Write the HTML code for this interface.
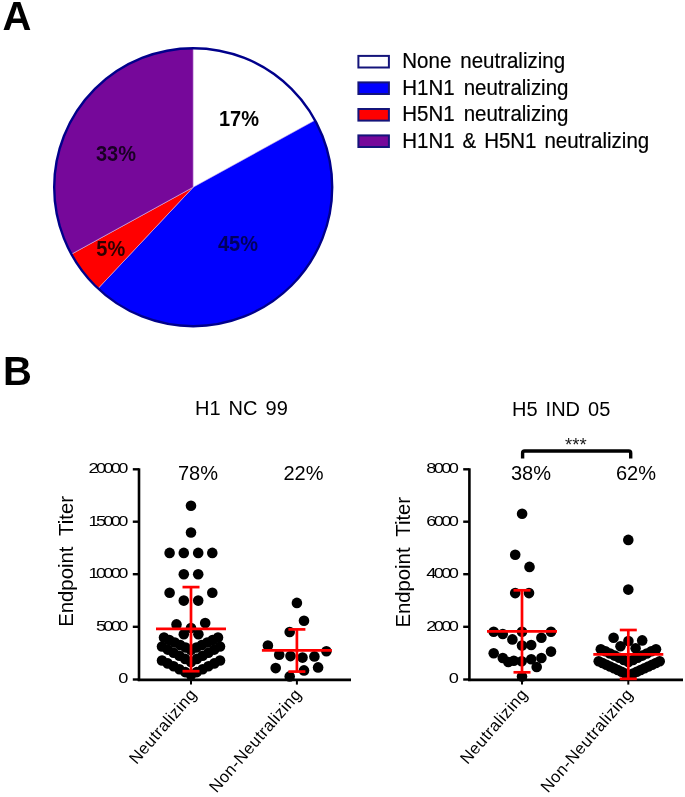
<!DOCTYPE html>
<html><head><meta charset="utf-8"><title>Figure</title>
<style>
html,body{margin:0;padding:0;background:#fff;}
body{width:685px;height:797px;overflow:hidden;}
svg{display:block;will-change:transform;font-family:"Liberation Sans",Arial,sans-serif;}
</style></head><body>
<svg width="685" height="797" viewBox="0 0 685 797">
<rect width="685" height="797" fill="#fff"/>

<text x="2.5" y="29.6" font-size="40" font-weight="bold" fill="#000">A</text>
<text x="3" y="384.8" font-size="40" font-weight="bold" fill="#000">B</text>
<path d="M193.2,187.2 L193.20,48.20 A139.0,139.0 0 0 1 315.01,120.24 Z" fill="#ffffff" stroke="#e0c8ee" stroke-width="0.5"/>
<path d="M193.2,187.2 L315.01,120.24 A139.0,139.0 0 0 1 98.05,288.53 Z" fill="#0000ff" stroke="#e0c8ee" stroke-width="0.5"/>
<path d="M193.2,187.2 L98.05,288.53 A139.0,139.0 0 0 1 71.39,254.16 Z" fill="#ff0000" stroke="#e0c8ee" stroke-width="0.5"/>
<path d="M193.2,187.2 L71.39,254.16 A139.0,139.0 0 0 1 193.20,48.20 Z" fill="#76089a" stroke="#e0c8ee" stroke-width="0.5"/>
<circle cx="193.2" cy="187.2" r="139.0" fill="none" stroke="#00008b" stroke-width="2.4"/>
<defs><filter id="b" x="-10%" y="-20%" width="120%" height="140%"><feGaussianBlur stdDeviation="0.55"/></filter></defs>
<g font-size="20" font-weight="bold">
<text transform="translate(219,125.6) scale(1,1.12)" fill="#000">17%</text>
<text transform="translate(96,161.4) scale(1,1.12)" fill="#1a0024">33%</text>
<text transform="translate(96.3,256.4) scale(1,1.12)" fill="#300000">5%</text>
<text transform="translate(218,251.4) scale(1,1.12)" fill="#04045e" filter="url(#b)">45%</text>
</g>
<rect x="358.4" y="55.9" width="30.5" height="11.6" fill="#ffffff" stroke="#14147a" stroke-width="2"/>
<text transform="translate(402.3,68.2) scale(1,1.07)" font-size="20.5" word-spacing="3.3" fill="#000" stroke="#000" stroke-width="0.2">None neutralizing</text>
<rect x="358.4" y="82.4" width="30.5" height="11.6" fill="#0000ff" stroke="#14147a" stroke-width="2"/>
<text transform="translate(402.3,94.7) scale(1,1.07)" font-size="20.5" word-spacing="3.3" fill="#000" stroke="#000" stroke-width="0.2">H1N1 neutralizing</text>
<rect x="358.4" y="109.0" width="30.5" height="11.6" fill="#ff0000" stroke="#14147a" stroke-width="2"/>
<text transform="translate(402.3,121.3) scale(1,1.07)" font-size="20.5" word-spacing="3.3" fill="#000" stroke="#000" stroke-width="0.2">H5N1 neutralizing</text>
<rect x="358.4" y="135.4" width="30.5" height="11.6" fill="#76089a" stroke="#14147a" stroke-width="2"/>
<text transform="translate(402.3,147.7) scale(1,1.07)" font-size="20.5" word-spacing="2.2" fill="#000" stroke="#000" stroke-width="0.2">H1N1 &amp; H5N1 neutralizing</text>
<text x="195" y="414.7" font-size="20" word-spacing="2.5" fill="#000">H1 NC 99</text>
<text x="178" y="479.7" font-size="20" fill="#000">78%</text>
<text x="283.5" y="479.7" font-size="20" fill="#000">22%</text>
<circle cx="191.0" cy="505.8" r="5.3" fill="#000"/>
<circle cx="191.0" cy="532.5" r="5.3" fill="#000"/>
<circle cx="169.6" cy="552.9" r="5.3" fill="#000"/>
<circle cx="183.8" cy="552.9" r="5.3" fill="#000"/>
<circle cx="198.2" cy="552.9" r="5.3" fill="#000"/>
<circle cx="212.3" cy="552.9" r="5.3" fill="#000"/>
<circle cx="183.8" cy="574.2" r="5.3" fill="#000"/>
<circle cx="198.2" cy="574.2" r="5.3" fill="#000"/>
<circle cx="169.6" cy="592.7" r="5.3" fill="#000"/>
<circle cx="212.3" cy="592.7" r="5.3" fill="#000"/>
<circle cx="183.8" cy="600.6" r="5.3" fill="#000"/>
<circle cx="198.2" cy="600.6" r="5.3" fill="#000"/>
<circle cx="176.5" cy="624.4" r="5.3" fill="#000"/>
<circle cx="205.2" cy="623.1" r="5.3" fill="#000"/>
<circle cx="191.0" cy="628.0" r="5.3" fill="#000"/>
<circle cx="183.8" cy="634.3" r="5.3" fill="#000"/>
<circle cx="198.4" cy="634.3" r="5.3" fill="#000"/>
<circle cx="164.0" cy="637.5" r="5.3" fill="#000"/>
<circle cx="169.4" cy="640.0" r="5.3" fill="#000"/>
<circle cx="174.8" cy="642.5" r="5.3" fill="#000"/>
<circle cx="180.2" cy="645.0" r="5.3" fill="#000"/>
<circle cx="185.6" cy="647.5" r="5.3" fill="#000"/>
<circle cx="191.0" cy="650.0" r="5.3" fill="#000"/>
<circle cx="196.4" cy="647.5" r="5.3" fill="#000"/>
<circle cx="201.8" cy="645.0" r="5.3" fill="#000"/>
<circle cx="207.2" cy="642.5" r="5.3" fill="#000"/>
<circle cx="212.6" cy="640.0" r="5.3" fill="#000"/>
<circle cx="218.0" cy="637.5" r="5.3" fill="#000"/>
<circle cx="162.0" cy="646.5" r="5.3" fill="#000"/>
<circle cx="167.8" cy="649.6" r="5.3" fill="#000"/>
<circle cx="173.6" cy="652.7" r="5.3" fill="#000"/>
<circle cx="179.4" cy="655.8" r="5.3" fill="#000"/>
<circle cx="185.2" cy="658.9" r="5.3" fill="#000"/>
<circle cx="191.0" cy="662.0" r="5.3" fill="#000"/>
<circle cx="196.8" cy="658.9" r="5.3" fill="#000"/>
<circle cx="202.6" cy="655.8" r="5.3" fill="#000"/>
<circle cx="208.4" cy="652.7" r="5.3" fill="#000"/>
<circle cx="214.2" cy="649.6" r="5.3" fill="#000"/>
<circle cx="220.0" cy="646.5" r="5.3" fill="#000"/>
<circle cx="162.0" cy="660.5" r="5.3" fill="#000"/>
<circle cx="167.8" cy="663.4" r="5.3" fill="#000"/>
<circle cx="173.6" cy="666.3" r="5.3" fill="#000"/>
<circle cx="179.4" cy="669.2" r="5.3" fill="#000"/>
<circle cx="185.2" cy="672.1" r="5.3" fill="#000"/>
<circle cx="191.0" cy="675.0" r="5.3" fill="#000"/>
<circle cx="196.8" cy="672.1" r="5.3" fill="#000"/>
<circle cx="202.6" cy="669.2" r="5.3" fill="#000"/>
<circle cx="208.4" cy="666.3" r="5.3" fill="#000"/>
<circle cx="214.2" cy="663.4" r="5.3" fill="#000"/>
<circle cx="220.0" cy="660.5" r="5.3" fill="#000"/>
<circle cx="296.9" cy="602.9" r="5.3" fill="#000"/>
<circle cx="304.0" cy="620.7" r="5.3" fill="#000"/>
<circle cx="289.7" cy="632.0" r="5.3" fill="#000"/>
<circle cx="267.9" cy="645.5" r="5.3" fill="#000"/>
<circle cx="326.4" cy="651.2" r="5.3" fill="#000"/>
<circle cx="279.2" cy="654.8" r="5.3" fill="#000"/>
<circle cx="290.5" cy="656.1" r="5.3" fill="#000"/>
<circle cx="302.5" cy="657.6" r="5.3" fill="#000"/>
<circle cx="314.4" cy="656.4" r="5.3" fill="#000"/>
<circle cx="275.7" cy="668.1" r="5.3" fill="#000"/>
<circle cx="318.1" cy="667.4" r="5.3" fill="#000"/>
<circle cx="304.0" cy="670.4" r="5.3" fill="#000"/>
<circle cx="289.7" cy="676.4" r="5.3" fill="#000"/>
<line x1="139.0" y1="468.3" x2="139.0" y2="681.1" stroke="#000" stroke-width="2.6"/>
<line x1="137.7" y1="679.9" x2="351" y2="679.9" stroke="#000" stroke-width="2.6"/>
<line x1="132.8" y1="469.3" x2="139.0" y2="469.3" stroke="#000" stroke-width="2.4"/>
<text transform="translate(125.7,473.2) scale(1.3,1)" text-anchor="end" font-size="14" letter-spacing="-2.05" fill="#000">20000</text>
<line x1="132.8" y1="521.7" x2="139.0" y2="521.7" stroke="#000" stroke-width="2.4"/>
<text transform="translate(125.7,525.6) scale(1.3,1)" text-anchor="end" font-size="14" letter-spacing="-2.05" fill="#000">15000</text>
<line x1="132.8" y1="574.2" x2="139.0" y2="574.2" stroke="#000" stroke-width="2.4"/>
<text transform="translate(125.7,578.1) scale(1.3,1)" text-anchor="end" font-size="14" letter-spacing="-2.05" fill="#000">10000</text>
<line x1="132.8" y1="626.8" x2="139.0" y2="626.8" stroke="#000" stroke-width="2.4"/>
<text transform="translate(125.7,630.6999999999999) scale(1.3,1)" text-anchor="end" font-size="14" letter-spacing="-2.05" fill="#000">5000</text>
<line x1="132.8" y1="679.5" x2="139.0" y2="679.5" stroke="#000" stroke-width="2.4"/>
<text transform="translate(125.7,683.4) scale(1.3,1)" text-anchor="end" font-size="14" letter-spacing="-2.05" fill="#000">0</text>
<line x1="191" y1="679.9" x2="191" y2="684.6" stroke="#000" stroke-width="2"/>
<line x1="296.9" y1="679.9" x2="296.9" y2="684.6" stroke="#000" stroke-width="2"/>
<g stroke="#ff0000" stroke-width="2.7" fill="none">
<line x1="156" y1="628.8" x2="226" y2="628.8"/>
<line x1="191" y1="587.1" x2="191" y2="671.2"/>
<line x1="182.5" y1="587.1" x2="199.5" y2="587.1"/>
<line x1="182.5" y1="671.2" x2="199.5" y2="671.2"/>
</g>
<g stroke="#ff0000" stroke-width="2.7" fill="none">
<line x1="261.9" y1="650.3" x2="331.9" y2="650.3"/>
<line x1="296.9" y1="629.4" x2="296.9" y2="671.6"/>
<line x1="288.4" y1="629.4" x2="305.4" y2="629.4"/>
<line x1="288.4" y1="671.6" x2="305.4" y2="671.6"/>
</g>
<text transform="translate(72.6,561.4) rotate(-90)" text-anchor="middle" font-size="20.3" word-spacing="5.5" fill="#000">Endpoint Titer</text>
<text transform="translate(197.5,694.8) rotate(-49)" text-anchor="end" font-size="16.5" letter-spacing="0.5" fill="#000">Neutralizing</text>
<text transform="translate(302.4,694.8) rotate(-49)" text-anchor="end" font-size="16.5" letter-spacing="0.5" fill="#000">Non-Neutralizing</text>
<text x="512" y="416.2" font-size="20" word-spacing="2.5" fill="#000">H5 IND 05</text>
<text x="511" y="479.7" font-size="20" fill="#000">38%</text>
<text x="616" y="479.7" font-size="20" fill="#000">62%</text>
<circle cx="522.1" cy="513.7" r="5.3" fill="#000"/>
<circle cx="515.2" cy="554.8" r="5.3" fill="#000"/>
<circle cx="529.5" cy="566.9" r="5.3" fill="#000"/>
<circle cx="515.2" cy="593.1" r="5.3" fill="#000"/>
<circle cx="529.0" cy="593.1" r="5.3" fill="#000"/>
<circle cx="493.7" cy="631.7" r="5.3" fill="#000"/>
<circle cx="502.8" cy="634.0" r="5.3" fill="#000"/>
<circle cx="522.0" cy="631.7" r="5.3" fill="#000"/>
<circle cx="551.0" cy="631.7" r="5.3" fill="#000"/>
<circle cx="512.4" cy="639.4" r="5.3" fill="#000"/>
<circle cx="541.4" cy="637.8" r="5.3" fill="#000"/>
<circle cx="522.0" cy="645.5" r="5.3" fill="#000"/>
<circle cx="531.2" cy="645.0" r="5.3" fill="#000"/>
<circle cx="493.7" cy="653.2" r="5.3" fill="#000"/>
<circle cx="551.0" cy="651.6" r="5.3" fill="#000"/>
<circle cx="502.8" cy="658.0" r="5.3" fill="#000"/>
<circle cx="541.4" cy="658.0" r="5.3" fill="#000"/>
<circle cx="531.2" cy="659.3" r="5.3" fill="#000"/>
<circle cx="508.3" cy="662.0" r="5.3" fill="#000"/>
<circle cx="513.8" cy="660.7" r="5.3" fill="#000"/>
<circle cx="521.7" cy="661.3" r="5.3" fill="#000"/>
<circle cx="536.7" cy="667.0" r="5.3" fill="#000"/>
<circle cx="522.0" cy="676.4" r="5.3" fill="#000"/>
<circle cx="628.3" cy="539.9" r="5.3" fill="#000"/>
<circle cx="628.3" cy="589.6" r="5.3" fill="#000"/>
<circle cx="613.6" cy="637.7" r="5.3" fill="#000"/>
<circle cx="642.2" cy="640.4" r="5.3" fill="#000"/>
<circle cx="620.5" cy="646.3" r="5.3" fill="#000"/>
<circle cx="635.6" cy="648.3" r="5.3" fill="#000"/>
<circle cx="628.4" cy="641.0" r="5.3" fill="#000"/>
<circle cx="600.8" cy="649.2" r="5.3" fill="#000"/>
<circle cx="605.4" cy="651.3" r="5.3" fill="#000"/>
<circle cx="610.0" cy="653.5" r="5.3" fill="#000"/>
<circle cx="614.6" cy="655.6" r="5.3" fill="#000"/>
<circle cx="619.2" cy="657.7" r="5.3" fill="#000"/>
<circle cx="623.8" cy="659.9" r="5.3" fill="#000"/>
<circle cx="628.4" cy="662.0" r="5.3" fill="#000"/>
<circle cx="633.0" cy="659.9" r="5.3" fill="#000"/>
<circle cx="637.6" cy="657.7" r="5.3" fill="#000"/>
<circle cx="642.2" cy="655.6" r="5.3" fill="#000"/>
<circle cx="646.8" cy="653.5" r="5.3" fill="#000"/>
<circle cx="651.4" cy="651.3" r="5.3" fill="#000"/>
<circle cx="656.0" cy="649.2" r="5.3" fill="#000"/>
<circle cx="598.7" cy="661.3" r="5.3" fill="#000"/>
<circle cx="602.5" cy="663.0" r="5.3" fill="#000"/>
<circle cx="606.3" cy="664.8" r="5.3" fill="#000"/>
<circle cx="610.1" cy="666.5" r="5.3" fill="#000"/>
<circle cx="614.0" cy="668.2" r="5.3" fill="#000"/>
<circle cx="617.8" cy="670.0" r="5.3" fill="#000"/>
<circle cx="621.6" cy="671.7" r="5.3" fill="#000"/>
<circle cx="625.4" cy="673.5" r="5.3" fill="#000"/>
<circle cx="629.2" cy="675.2" r="5.3" fill="#000"/>
<circle cx="633.0" cy="673.5" r="5.3" fill="#000"/>
<circle cx="636.8" cy="671.7" r="5.3" fill="#000"/>
<circle cx="640.6" cy="670.0" r="5.3" fill="#000"/>
<circle cx="644.5" cy="668.2" r="5.3" fill="#000"/>
<circle cx="648.3" cy="666.5" r="5.3" fill="#000"/>
<circle cx="652.1" cy="664.8" r="5.3" fill="#000"/>
<circle cx="655.9" cy="663.0" r="5.3" fill="#000"/>
<circle cx="659.7" cy="661.3" r="5.3" fill="#000"/>
<line x1="469.4" y1="468.3" x2="469.4" y2="681.1" stroke="#000" stroke-width="2.6"/>
<line x1="468.09999999999997" y1="679.9" x2="683" y2="679.9" stroke="#000" stroke-width="2.6"/>
<line x1="463.2" y1="469.3" x2="469.4" y2="469.3" stroke="#000" stroke-width="2.4"/>
<text transform="translate(456.09999999999997,473.2) scale(1.3,1)" text-anchor="end" font-size="14" letter-spacing="-2.05" fill="#000">8000</text>
<line x1="463.2" y1="521.7" x2="469.4" y2="521.7" stroke="#000" stroke-width="2.4"/>
<text transform="translate(456.09999999999997,525.6) scale(1.3,1)" text-anchor="end" font-size="14" letter-spacing="-2.05" fill="#000">6000</text>
<line x1="463.2" y1="574.2" x2="469.4" y2="574.2" stroke="#000" stroke-width="2.4"/>
<text transform="translate(456.09999999999997,578.1) scale(1.3,1)" text-anchor="end" font-size="14" letter-spacing="-2.05" fill="#000">4000</text>
<line x1="463.2" y1="626.8" x2="469.4" y2="626.8" stroke="#000" stroke-width="2.4"/>
<text transform="translate(456.09999999999997,630.6999999999999) scale(1.3,1)" text-anchor="end" font-size="14" letter-spacing="-2.05" fill="#000">2000</text>
<line x1="463.2" y1="679.5" x2="469.4" y2="679.5" stroke="#000" stroke-width="2.4"/>
<text transform="translate(456.09999999999997,683.4) scale(1.3,1)" text-anchor="end" font-size="14" letter-spacing="-2.05" fill="#000">0</text>
<line x1="522" y1="679.9" x2="522" y2="684.6" stroke="#000" stroke-width="2"/>
<line x1="628.3" y1="679.9" x2="628.3" y2="684.6" stroke="#000" stroke-width="2"/>
<g stroke="#ff0000" stroke-width="2.7" fill="none">
<line x1="487" y1="631.4" x2="557" y2="631.4"/>
<line x1="522" y1="590.3" x2="522" y2="672.3"/>
<line x1="513.5" y1="590.3" x2="530.5" y2="590.3"/>
<line x1="513.5" y1="672.3" x2="530.5" y2="672.3"/>
</g>
<g stroke="#ff0000" stroke-width="2.7" fill="none">
<line x1="593.3" y1="654.4" x2="663.3" y2="654.4"/>
<line x1="628.3" y1="630" x2="628.3" y2="678.8"/>
<line x1="619.8" y1="630" x2="636.8" y2="630"/>
<line x1="619.8" y1="678.8" x2="636.8" y2="678.8"/>
</g>
<text transform="translate(410.4,562.1999999999999) rotate(-90)" text-anchor="middle" font-size="20.3" word-spacing="5.5" fill="#000">Endpoint Titer</text>
<text transform="translate(528.5,694.8) rotate(-49)" text-anchor="end" font-size="16.5" letter-spacing="0.5" fill="#000">Neutralizing</text>
<text transform="translate(633.8,694.8) rotate(-49)" text-anchor="end" font-size="16.5" letter-spacing="0.5" fill="#000">Non-Neutralizing</text>
<path d="M522.6,458.6 V453 Q522.6,451 524.6,451 H628.7 Q630.7,451 630.7,453 V458.6" fill="none" stroke="#000" stroke-width="3.4"/>
<text x="575.8" y="451.4" text-anchor="middle" font-size="18.5" fill="#1a1a1a">***</text>
</svg></body></html>
